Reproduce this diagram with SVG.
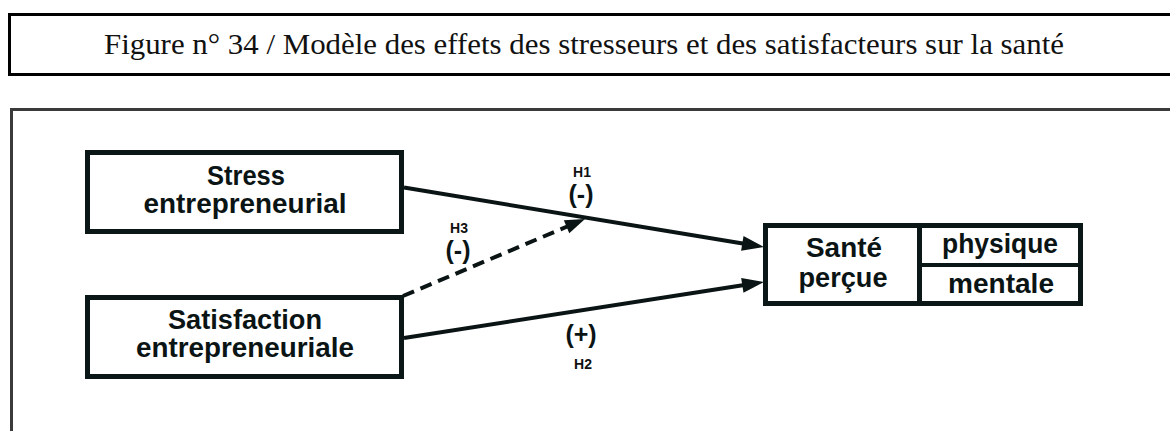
<svg xmlns="http://www.w3.org/2000/svg" width="1170" height="431" viewBox="0 0 1170 431">
<style>
.node{fill:#fff;stroke:#0b1616;stroke-width:5}
.lbl{font-family:"Liberation Sans",Arial,sans-serif;font-weight:bold;font-size:27px;fill:#0b1414;text-anchor:middle}
.h{font-family:"Liberation Sans",Arial,sans-serif;font-weight:bold;font-size:14px;fill:#111;text-anchor:middle}
.sg{font-family:"Liberation Sans",Arial,sans-serif;font-weight:bold;font-size:25px;fill:#0b1414;text-anchor:middle}
.conn{fill:none;stroke:#0b1414;stroke-width:4}
.title{font-family:"Liberation Serif","Times New Roman",serif;font-size:30px;fill:#111;text-anchor:middle}
</style>
<defs>
<marker id="arr" markerUnits="userSpaceOnUse" markerWidth="22" markerHeight="15" refX="2" refY="7.5" orient="auto" overflow="visible">
<path d="M0,0 L22,7.5 L0,15 z" fill="#0b1414"/>
</marker>
<marker id="arrd" markerUnits="userSpaceOnUse" markerWidth="20" markerHeight="14" refX="2" refY="7" orient="auto" overflow="visible">
<path d="M0,0 L20,7 L0,14 z" fill="#0b1414"/>
</marker>
</defs>
<rect width="1170" height="431" fill="#fff"/>
<g id="title">
<rect x="9.5" y="14.5" width="1200" height="60" fill="none" stroke="#000" stroke-width="3"/>
<text class="title" x="584" y="54" textLength="960" lengthAdjust="spacingAndGlyphs">Figure n° 34 / Modèle des effets des stresseurs et des satisfacteurs sur la santé</text>
</g>
<g id="frame">
<rect x="11.5" y="109.5" width="1200" height="400" fill="none" stroke="#3a3a3a" stroke-width="3"/>
</g>
<g id="connectors">
<line class="conn" x1="404" y1="187.5" x2="744.3" y2="243.7" marker-end="url(#arr)"/>
<line class="conn" x1="404" y1="338" x2="744.3" y2="285.1" marker-end="url(#arr)"/>
<line class="conn" x1="403" y1="296" x2="568.4" y2="226" stroke-dasharray="12 7" marker-end="url(#arrd)"/>
<text class="h" x="582" y="177">H1</text>
<text class="sg" x="581" y="203">(-)</text>
<text class="h" x="459" y="233">H3</text>
<text class="sg" x="458" y="259">(-)</text>
<text class="sg" x="581" y="343">(+)</text>
<text class="h" x="583" y="369">H2</text>
</g>
<g id="stress">
<rect class="node" x="87.5" y="152.5" width="314" height="79"/>
<text class="lbl" x="246" y="185" textLength="78" lengthAdjust="spacingAndGlyphs">Stress</text>
<text class="lbl" x="245" y="213" textLength="203" lengthAdjust="spacingAndGlyphs">entrepreneurial</text>
</g>
<g id="satisfaction">
<rect class="node" x="87.5" y="297.5" width="314" height="79"/>
<text class="lbl" x="245" y="329" textLength="154" lengthAdjust="spacingAndGlyphs">Satisfaction</text>
<text class="lbl" x="245" y="357" textLength="218" lengthAdjust="spacingAndGlyphs">entrepreneuriale</text>
</g>
<g id="sante">
<rect class="node" x="765.5" y="225.5" width="315" height="78"/>
<line x1="919.5" y1="225.5" x2="919.5" y2="303.5" stroke="#0b1616" stroke-width="5"/>
<line x1="919.5" y1="265" x2="1080.5" y2="265" stroke="#0b1616" stroke-width="4"/>
<text class="lbl" x="844" y="257" textLength="76" lengthAdjust="spacingAndGlyphs">Santé</text>
<text class="lbl" x="843" y="287" textLength="89" lengthAdjust="spacingAndGlyphs">perçue</text>
<text class="lbl" x="1000" y="253" textLength="116" lengthAdjust="spacingAndGlyphs">physique</text>
<text class="lbl" x="1001" y="293" textLength="106" lengthAdjust="spacingAndGlyphs">mentale</text>
</g>
</svg>
